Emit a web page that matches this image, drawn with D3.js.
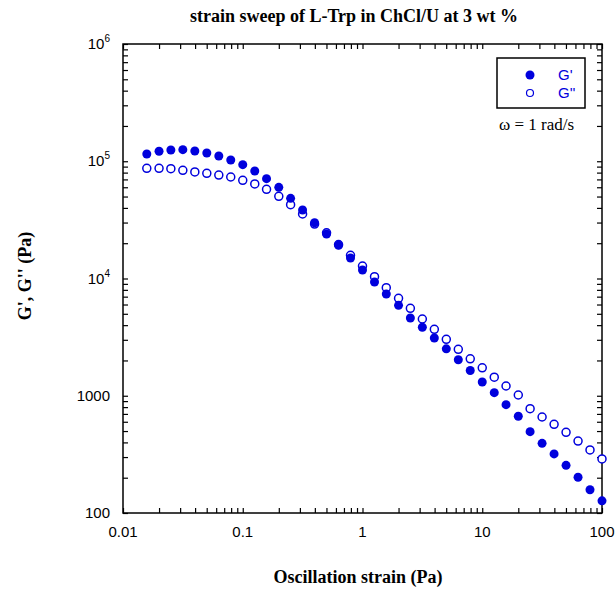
<!DOCTYPE html>
<html lang="en">
<head>
<meta charset="UTF-8">
<title>strain sweep of L-Trp in ChCl/U</title>
<script src="https://d3js.org/d3.v7.min.js"></script>
<style>
  body { margin: 0; background: #fff; }
</style>
</head>
<body>
<div id="chart"></div>
<script>
// oscillation strain (Pa), 10 points per decade
var strain = [0.0158, 0.02, 0.0251, 0.0316, 0.0398, 0.0501, 0.0631, 0.0794, 0.1, 0.126,
  0.158, 0.2, 0.251, 0.316, 0.398, 0.501, 0.631, 0.794, 1, 1.26,
  1.58, 2, 2.51, 3.16, 3.98, 5.01, 6.31, 7.94, 10, 12.6,
  15.8, 20, 25.1, 31.6, 39.8, 50.1, 63.1, 79.4, 100];

// storage modulus G' (Pa)
var gPrime = [115300, 121600, 124700, 125500, 122300, 117600, 110900, 102500, 93500, 82600,
  71000, 59900, 48300, 38400, 29900, 23960, 19200, 14960, 11820, 9335,
  7375, 5906, 4604, 3836, 3108, 2514, 2026, 1642, 1310, 1062,
  839, 668, 494, 393, 319, 255, 202, 158, 127];

// loss modulus G'' (Pa)
var gDoublePrime = [87100, 87100, 86400, 83700, 81000, 78900, 76300, 73400, 68800, 64000,
  57660, 50240, 42600, 35490, 29150, 24500, 19500, 15780, 12780, 10360,
  8345, 6778, 5569, 4515, 3688, 3030, 2490, 2066, 1731, 1439,
  1211, 1015, 775, 659, 571, 488, 411, 345, 289];

var xTickLabels = ["0.01", "0.1", "1", "10", "100"];
var xTickValues = [0.01, 0.1, 1, 10, 100];
var yTickValues = [100, 1000, 1e4, 1e5, 1e6];
var yTickLabels = [["100", ""], ["1000", ""], ["10", "4"], ["10", "5"], ["10", "6"]];

var width = 616, height = 601;
var margin = { left: 123, right: 14, top: 44, bottom: 88 };
var blue = "#0000dd";
var serif = "'Liberation Serif', 'Times New Roman', serif";

var svg = d3.select("#chart").append("svg")
  .attr("width", width)
  .attr("height", height)
  .style("font-family", "'Liberation Sans', Arial, sans-serif");

var x = d3.scaleLog().domain([0.01, 100]).range([margin.left, width - margin.right]);
var y = d3.scaleLog().domain([100, 1e6]).range([height - margin.bottom, margin.top]);

// minor + major tick positions
function logTicks(lo, hi) {
  var t = [];
  for (var e = Math.log10(lo); e < Math.log10(hi); e++) {
    for (var k = 1; k < 10; k++) t.push(k * Math.pow(10, e));
  }
  t.push(hi);
  return t;
}
var xt = logTicks(0.01, 100), yt = logTicks(100, 1e6);
var tick = 5;

// axes: ticks point inward on all four sides
function styleAxis(g) {
  g.select(".domain").remove();
  g.selectAll("line").attr("stroke", "#000").attr("stroke-width", 1.2);
}
svg.append("g").attr("transform", "translate(0," + y.range()[0] + ")")
  .call(d3.axisBottom(x).tickValues(xt).tickSize(-tick).tickFormat(""))
  .call(styleAxis);
svg.append("g").attr("transform", "translate(0," + y.range()[1] + ")")
  .call(d3.axisTop(x).tickValues(xt).tickSize(-tick).tickFormat(""))
  .call(styleAxis);
svg.append("g").attr("transform", "translate(" + x.range()[0] + ",0)")
  .call(d3.axisLeft(y).tickValues(yt).tickSize(-tick).tickFormat(""))
  .call(styleAxis);
svg.append("g").attr("transform", "translate(" + x.range()[1] + ",0)")
  .call(d3.axisRight(y).tickValues(yt).tickSize(-tick).tickFormat(""))
  .call(styleAxis);

// frame
svg.append("rect")
  .attr("x", x.range()[0]).attr("y", y.range()[1])
  .attr("width", x.range()[1] - x.range()[0])
  .attr("height", y.range()[0] - y.range()[1])
  .attr("fill", "none").attr("stroke", "#000").attr("stroke-width", 1.5);

// tick labels
svg.selectAll(".xlab").data(xTickValues).enter().append("text")
  .attr("x", function(d) { return x(d); })
  .attr("y", 537)
  .attr("text-anchor", "middle")
  .attr("font-size", 15)
  .text(function(d, i) { return xTickLabels[i]; });

var ylab = svg.selectAll(".ylab").data(yTickValues).enter().append("text")
  .attr("x", 110)
  .attr("y", function(d) { return y(d) + 5; })
  .attr("text-anchor", "end")
  .attr("font-size", 15);
ylab.append("tspan").text(function(d, i) { return yTickLabels[i][0]; });
ylab.append("tspan")
  .attr("dy", -7)
  .attr("font-size", 10)
  .text(function(d, i) { return yTickLabels[i][1]; });

// titles
svg.append("text")
  .attr("x", 354).attr("y", 22)
  .attr("text-anchor", "middle")
  .attr("font-family", serif)
  .attr("font-weight", "bold").attr("font-size", 18)
  .text("strain sweep of L-Trp in ChCl/U at 3 wt %");

svg.append("text")
  .attr("x", 358).attr("y", 583)
  .attr("text-anchor", "middle")
  .attr("font-family", serif)
  .attr("font-weight", "bold").attr("font-size", 18)
  .text("Oscillation strain (Pa)");

svg.append("text")
  .attr("transform", "translate(31,276) rotate(-90)")
  .attr("text-anchor", "middle")
  .attr("font-family", serif)
  .attr("font-weight", "bold").attr("font-size", 18)
  .text("G', G'' (Pa)");

// data
var rows = strain.map(function(s, i) { return { s: s, gp: gPrime[i], gpp: gDoublePrime[i] }; });

svg.append("g").selectAll("circle").data(rows).enter().append("circle")
  .attr("cx", function(d) { return x(d.s); })
  .attr("cy", function(d) { return y(d.gpp); })
  .attr("r", 4)
  .attr("fill", "#fff")
  .attr("stroke", blue)
  .attr("stroke-width", 1.5);

svg.append("g").selectAll("circle").data(rows).enter().append("circle")
  .attr("cx", function(d) { return x(d.s); })
  .attr("cy", function(d) { return y(d.gp); })
  .attr("r", 4.5)
  .attr("fill", blue);

// legend
var lg = svg.append("g");
lg.append("rect")
  .attr("x", 497).attr("y", 58).attr("width", 88).attr("height", 50)
  .attr("fill", "#fff").attr("stroke", "#000").attr("stroke-width", 1.5);
lg.append("circle").attr("cx", 530).attr("cy", 75).attr("r", 4.5).attr("fill", blue);
lg.append("circle").attr("cx", 530).attr("cy", 93).attr("r", 3.5)
  .attr("fill", "#fff").attr("stroke", blue).attr("stroke-width", 1.2);
lg.append("text").attr("x", 558).attr("y", 80).attr("font-size", 15).attr("fill", blue).text("G'");
lg.append("text").attr("x", 558).attr("y", 98).attr("font-size", 15).attr("fill", blue).text("G''");

svg.append("text")
  .attr("x", 499).attr("y", 130)
  .attr("font-family", serif)
  .attr("font-size", 17)
  .text("\u03c9 = 1 rad/s");
</script>
</body>
</html>
